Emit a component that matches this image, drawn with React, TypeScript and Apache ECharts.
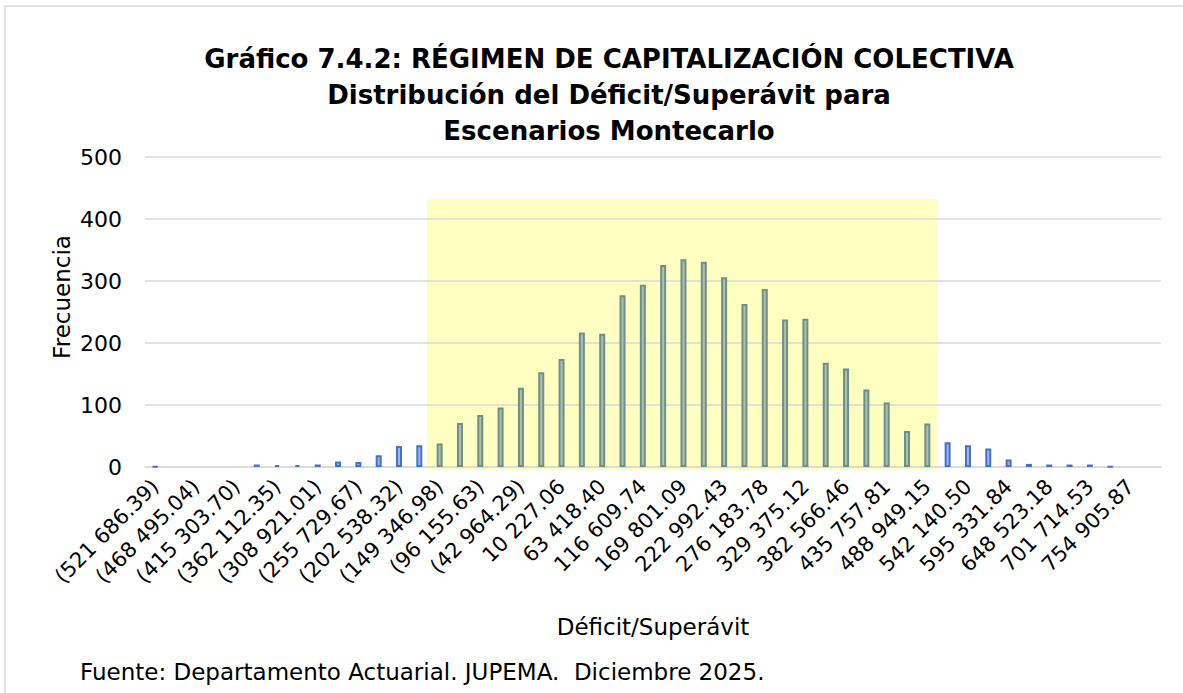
import React, { useEffect, useRef } from "react";
import * as echarts from "echarts";

const categories: string[] = [
  "(521 686.39)", "(495 090.72)", "(468 495.04)", "(441 899.37)", "(415 303.70)",
  "(388 708.03)", "(362 112.35)", "(335 516.68)", "(308 921.01)", "(282 325.34)",
  "(255 729.67)", "(229 134.00)", "(202 538.32)", "(175 942.65)", "(149 346.98)",
  "(122 751.31)", "(96 155.63)", "(69 559.96)", "(42 964.29)", "(16 368.62)",
  "10 227.06", "36 822.73", "63 418.40", "90 014.07", "116 609.74",
  "143 205.42", "169 801.09", "196 396.76", "222 992.43", "249 588.11",
  "276 183.78", "302 779.45", "329 375.12", "355 970.79", "382 566.46",
  "409 162.14", "435 757.81", "462 353.48", "488 949.15", "515 544.83",
  "542 140.50", "568 736.17", "595 331.84", "621 927.51", "648 523.18",
  "675 118.86", "701 714.53", "728 310.20", "754 905.87", "781 501.55",
];

const frequencies: number[] = [
  1, 0, 0, 0, 0, 4, 3, 3, 4, 9,
  8, 19, 34, 35, 38, 71, 84, 96, 128, 153,
  174, 217, 215, 277, 294, 326, 335, 331, 306, 263,
  287, 238, 239, 168, 159, 125, 104, 58, 70, 40,
  35, 30, 12, 5, 4, 4, 4, 1, 0, 0,
];

// categories within the highlighted (yellow) central band
const highlightStart = 14;
const highlightEnd = 38;

const yTicks: number[] = [0, 100, 200, 300, 400, 500];

const FONT = "'DejaVu Sans', sans-serif";

export default function App() {
  const ref = useRef<HTMLDivElement>(null);

  useEffect(() => {
    if (!ref.current) return;
    const chart = echarts.init(ref.current, undefined, { renderer: "svg" });

    const data = frequencies.map((v, i) => {
      const inBand = i >= highlightStart && i <= highlightEnd;
      const bw = v === 0 ? 0 : 2;
      return {
        value: v,
        itemStyle: inBand
          ? { color: "#b6be9f", borderColor: "#6b9090", borderWidth: bw }
          : { color: "#a3b5e4", borderColor: "#4472c4", borderWidth: bw },
      };
    });

    chart.setOption({
      animation: false,
      backgroundColor: "#ffffff",
      title: {
        text: "Gráfico 7.4.2: RÉGIMEN DE CAPITALIZACIÓN COLECTIVA\nDistribución del Déficit/Superávit para\nEscenarios Montecarlo",
        left: 604,
        top: 36,
        textAlign: "center",
        textStyle: {
          fontFamily: FONT,
          fontSize: 26,
          fontWeight: "bold",
          color: "#000000",
          lineHeight: 36,
        },
      },
      grid: { left: 145, right: 22, top: 157, bottom: 226, containLabel: false },
      xAxis: {
        type: "category",
        data: categories,
        name: "Déficit/Superávit",
        nameLocation: "middle",
        nameGap: 148,
        nameTextStyle: { fontFamily: FONT, fontSize: 23, color: "#000000" },
        axisLine: { show: true, lineStyle: { color: "#d9d9d9", width: 1.5 } },
        axisTick: { show: false },
        axisLabel: {
          interval: 1,
          rotate: 45,
          fontFamily: FONT,
          fontSize: 21,
          color: "#000000",
          margin: 16,
        },
      },
      yAxis: {
        type: "value",
        min: yTicks[0],
        max: yTicks[yTicks.length - 1],
        interval: 100,
        axisLine: { show: false },
        axisTick: { show: false },
        axisLabel: { fontFamily: FONT, fontSize: 22, color: "#000000", margin: 23 },
        splitLine: { lineStyle: { color: "#d9d9d9", width: 1.5 } },
      },
      graphic: [
        {
          type: "rect",
          z: -10,
          silent: true,
          shape: { x: 5, y: 6, width: 1200, height: 720 },
          style: { fill: "none", stroke: "#d9d9d9", lineWidth: 1.5 },
        },
        {
          type: "rect",
          z: -5,
          silent: true,
          shape: { x: 427, y: 199, width: 511, height: 271 },
          style: { fill: "#ffffc1" },
        },
        {
          type: "text",
          x: 62,
          y: 297,
          rotation: Math.PI / 2,
          style: {
            text: "Frecuencia",
            fontFamily: FONT,
            fontSize: 23,
            fill: "#000000",
            align: "center",
            verticalAlign: "middle",
          },
        },
        {
          type: "text",
          left: 80,
          top: 660,
          style: {
            text: "Fuente: Departamento Actuarial. JUPEMA.  Diciembre 2025.",
            fontFamily: FONT,
            fontSize: 23,
            fill: "#000000",
          },
        },
      ],
      series: [
        {
          type: "bar",
          data,
          barWidth: 6,
          z: 3,
        },
      ],
    });

    return () => chart.dispose();
  }, []);

  return (
    <div
      ref={ref}
      style={{ position: "absolute", left: 0, top: 0, width: 1183, height: 693 }}
    />
  );
}
